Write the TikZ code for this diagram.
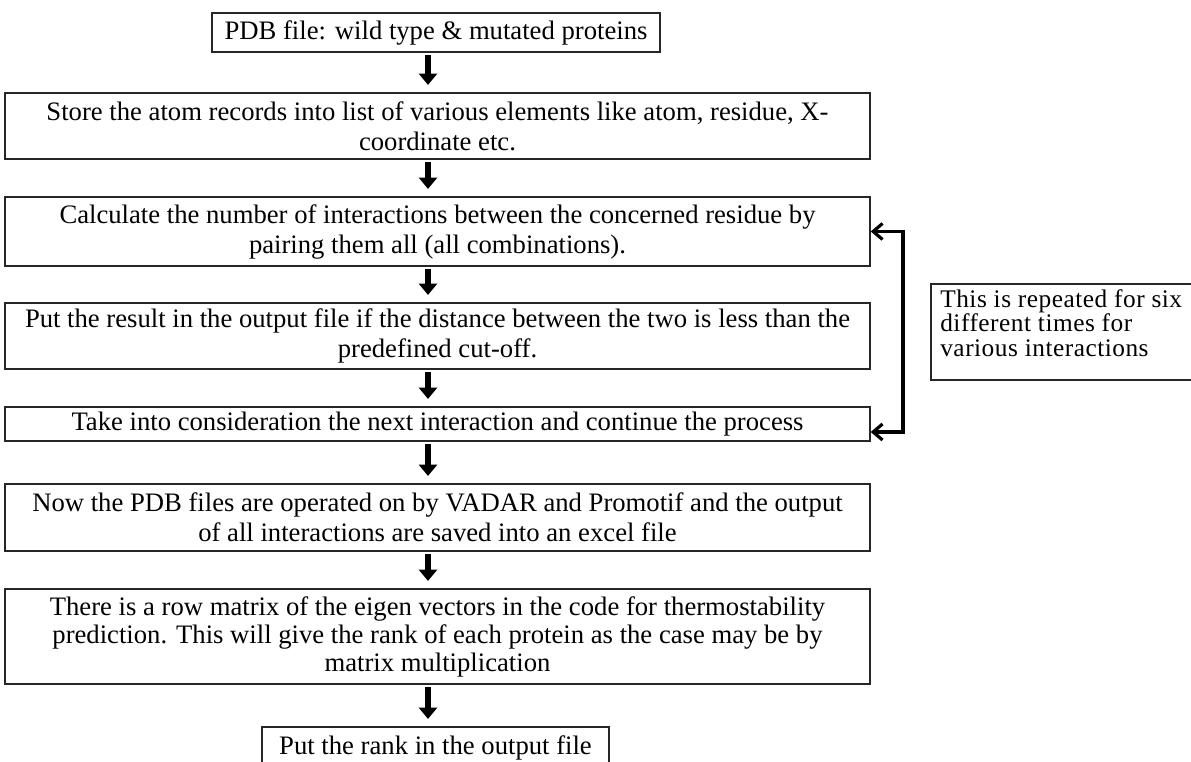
\documentclass[tikz,border=0pt]{standalone}
\usepackage{fontspec}
\setmainfont{Liberation Serif}
\newfontfamily\notefont[LetterSpace=2]{Liberation Serif}
\usetikzlibrary{arrows.meta}

\tikzset{
  stepbox/.style={draw=black!85, line width=1.1pt, align=center, inner sep=0pt,
    font=\fontsize{20}{22.5}\selectfont},
  widebox/.style={stepbox, font=\fontsize{20}{21}\selectfont},
  notebox/.style={draw=black!85, line width=1.1pt, inner xsep=7pt, inner ysep=0pt,
    font=\notefont\fontsize{19}{18.5}\selectfont},
  dnarrow/.style={line width=4.5pt, -{Triangle[length=8.5pt, width=13.5pt]},
    shorten <=1.5pt, shorten >=5.5pt},
  looparrow/.style={line width=2.4pt,
    {Straight Barb[length=7pt, width=12pt]}-{Straight Barb[length=7pt, width=12pt]}},
}

\begin{document}
\begin{tikzpicture}[x=0.75pt, y=-0.75pt]
  \useasboundingbox (0,0) rectangle (1191,762);
  \clip (0,0) rectangle (1191,762);

  % main column of steps
  \node[stepbox, minimum width=448*0.75pt, minimum height=39*0.75pt] (b1) at (436,32.5)
    {PDB file: wild type \& mutated proteins};
  \node[stepbox, minimum width=865*0.75pt, minimum height=66*0.75pt] (b2) at (437.5,126)
    {Store the atom records into list of various elements like atom, residue, X-\\coordinate etc.};
  \node[stepbox, minimum width=865*0.75pt, minimum height=69*0.75pt] (b3) at (437.5,231.5)
    {Calculate the number of interactions between the concerned residue by\\pairing them all (all combinations).};
  \node[stepbox, minimum width=865*0.75pt, minimum height=66*0.75pt] (b4) at (437.5,336)
    {Put the result in the output file if the distance between the two is less than the\\predefined cut-off.};
  \node[stepbox, minimum width=865*0.75pt, minimum height=34*0.75pt] (b5) at (437.5,424)
    {Take into consideration the next interaction and continue the process};
  \node[stepbox, minimum width=865*0.75pt, minimum height=67*0.75pt] (b6) at (437.5,517.5)
    {Now the PDB files are operated on by VADAR and Promotif and the output\\of all interactions are saved into an excel file};
  \node[widebox, minimum width=865*0.75pt, minimum height=95*0.75pt] (b7) at (437.5,636.5)
    {There is a row matrix of the eigen vectors in the code for thermostability\\prediction. This will give the rank of each protein as the case may be by\\matrix multiplication};
  \node[widebox, minimum width=347*0.75pt, minimum height=42*0.75pt] (b8) at (435.5,748)
    {Put the rank in the output file};

  % side note, text set from the top of its frame
  \node[notebox] (note) at (1063,332)
    {\parbox[c][72pt][t]{184pt}{\vspace*{4pt}This is repeated for six\\different times for\\various interactions}};

  % downward flow
  \coordinate (ax) at (428,0);
  \foreach \a/\b in {b1/b2, b2/b3, b3/b4, b4/b5, b5/b6, b6/b7, b7/b8}
    \draw[dnarrow] (\a.south -| ax) -- (\b.north -| ax);

  % repetition loop
  \coordinate (lx) at (903,0);
  \draw[looparrow] (b3.east) -- (b3.east -| lx) -- ([yshift=-6pt]b5.east -| lx) -- ([yshift=-6pt]b5.east);
\end{tikzpicture}
\end{document}
